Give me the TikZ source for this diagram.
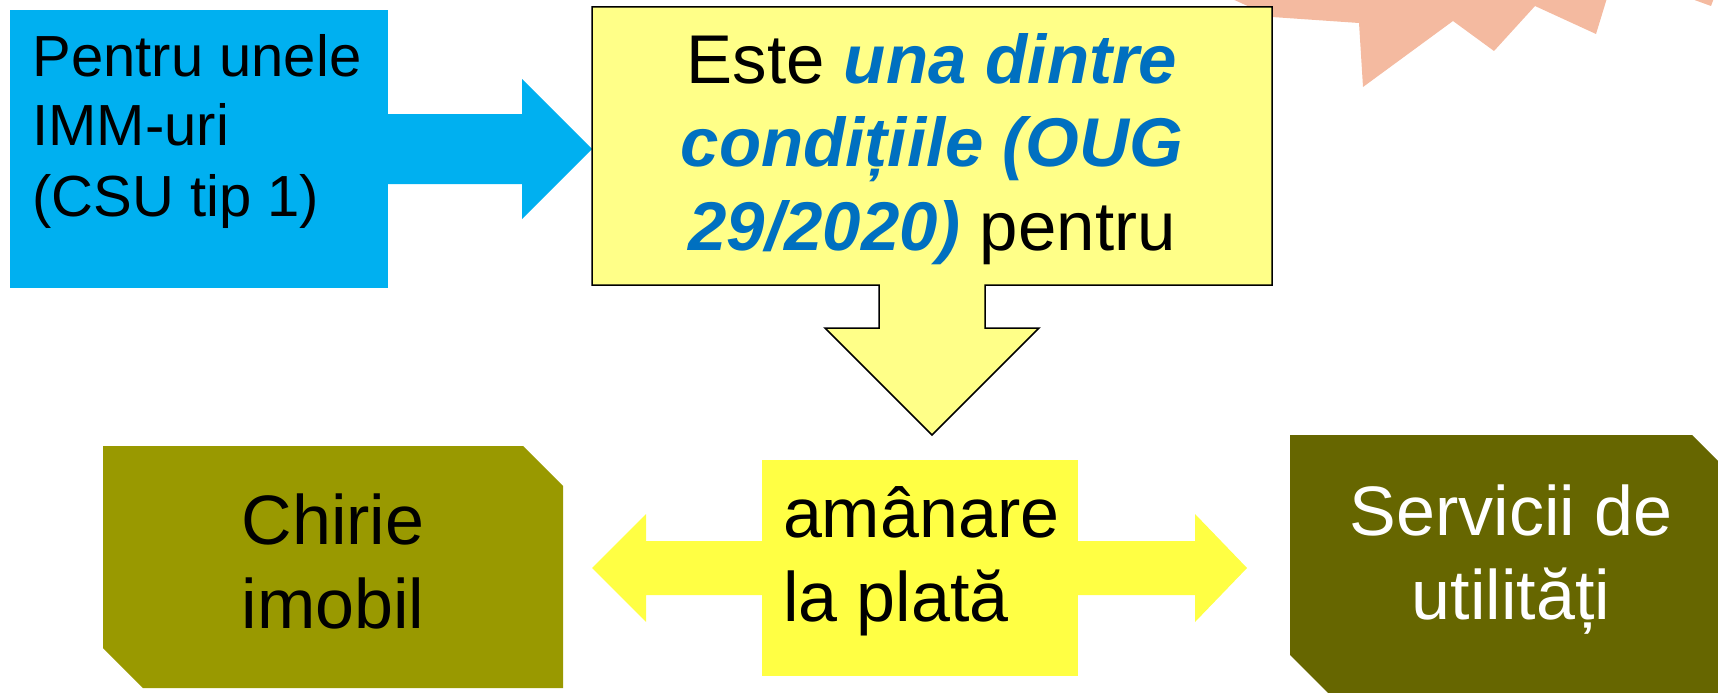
\documentclass[tikz,border=0pt]{standalone}
\usepackage{fontspec}
\setmainfont{Liberation Sans}
\usetikzlibrary{calc,backgrounds}
\definecolor{cyanbox}{HTML}{00B0F0}
\definecolor{lightyel}{HTML}{FFFF88}
\definecolor{brightyel}{HTML}{FFFF44}
\definecolor{olivebox}{HTML}{999900}
\definecolor{darkolive}{HTML}{666600}
\definecolor{salmon}{HTML}{F4BAA0}
\definecolor{ublue}{HTML}{0070C0}
\begin{document}
\begin{tikzpicture}[x=1pt,y=-1pt,
  box/.style={rectangle, inner sep=0pt, outer sep=0pt}]
\useasboundingbox (0,0) rectangle (1718,693);
% nodes
\node[box, minimum width=378pt, minimum height=278pt, text height=50pt, text depth=196pt] (imm) at (199,149)
  {\fontsize{58}{70}\selectfont\makebox[333pt][l]{\begin{tabular}[t]{@{}l@{}}Pentru unele\\IMM-uri\\(CSU tip 1)\end{tabular}}};
\node[box, minimum width=680pt, minimum height=278pt, text height=60pt, text depth=186pt] (cond) at (932,146)
  {\fontsize{69}{83.5}\selectfont\begin{tabular}[t]{@{}c@{}}Este \textcolor{ublue}{\textbf{\textit{una dintre}}}\\ \textcolor{ublue}{\textbf{\textit{condițiile (OUG}}}\\ \textcolor{ublue}{\textbf{\textit{29/2020)}}} pentru\end{tabular}};
\node[box, minimum width=460pt, minimum height=242pt, text height=60pt, text depth=106pt] (chirie) at (333,567)
  {\fontsize{70}{84}\selectfont\begin{tabular}[t]{@{}c@{}}Chirie\\imobil\end{tabular}};
\node[box, minimum width=316pt, minimum height=216pt, text height=55pt, text depth=117pt] (mid) at (920,568)
  {\fontsize{70}{84}\selectfont\makebox[274pt][l]{\begin{tabular}[t]{@{}l@{}}amânare\\la plată\end{tabular}}};
\node[box, minimum width=442pt, minimum height=260pt, text height=60pt, text depth=120pt, text=white] (serv) at (1511,565)
  {\fontsize{70}{84}\selectfont\begin{tabular}[t]{@{}c@{}}Servicii de\\utilități\end{tabular}};
\coordinate (tipA) at (cond.west |- imm.east);
\coordinate (tipB) at ($(cond.south)+(0,150)$);
\coordinate (lt) at ($(chirie.east |- mid.center)+(29,0)$);
\coordinate (rt) at ($(serv.west |- mid.center)+(-43,0)$);
\begin{scope}[on background layer]
  % starburst
  \fill[salmon] (1230,-2) -- (1272,17) -- (1359,23) -- (1363,87) -- (1453,21) -- (1494,51) -- (1535,6) -- (1596,34) -- (1607,-2) -- cycle;
  \fill[salmon] (1689,-2) -- (1711,6) -- (1714,-2) -- cycle;
  % blue box and arrow
  \fill[cyanbox] (imm.north west) rectangle (imm.south east);
  \fill[cyanbox] ($(imm.east)+(-1,-35)$) -- ($(imm.east)+(134,-35)$) -- ($(imm.east)+(134,-70)$) -- (tipA)
     -- ($(imm.east)+(134,70)$) -- ($(imm.east)+(134,35)$) -- ($(imm.east)+(-1,35)$) -- cycle;
  % callout
  \filldraw[fill=lightyel, draw=black, line width=1.5pt, line join=miter]
     (cond.north west) -- (cond.north east) -- (cond.south east)
     -- ($(cond.south)+(53,0)$) -- ($(cond.south)+(53,43)$) -- ($(cond.south)+(107,43)$) -- (tipB)
     -- ($(cond.south)+(-107,43)$) -- ($(cond.south)+(-53,43)$) -- ($(cond.south)+(-53,0)$)
     -- (cond.south west) -- cycle;
  % double arrow
  \fill[brightyel] (lt) -- ($(lt)+(54,-54)$) -- ($(lt)+(54,-27)$) -- ($(rt)+(-52,-27)$) -- ($(rt)+(-52,-54)$) -- (rt)
     -- ($(rt)+(-52,54)$) -- ($(rt)+(-52,27)$) -- ($(lt)+(54,27)$) -- ($(lt)+(54,54)$) -- cycle;
  \fill[brightyel] (mid.north west) rectangle (mid.south east);
  % chamfered boxes
  \fill[olivebox] (chirie.north west) -- ($(chirie.north east)+(-40,0)$) -- ($(chirie.north east)+(0,40)$)
     -- (chirie.south east) -- ($(chirie.south west)+(40,0)$) -- ($(chirie.south west)+(0,-40)$) -- cycle;
  \fill[darkolive] (serv.north west) -- ($(serv.north east)+(-40,0)$) -- ($(serv.north east)+(0,40)$)
     -- (serv.south east) -- ($(serv.south west)+(40,0)$) -- ($(serv.south west)+(0,-40)$) -- cycle;
\end{scope}
\end{tikzpicture}
\end{document}
